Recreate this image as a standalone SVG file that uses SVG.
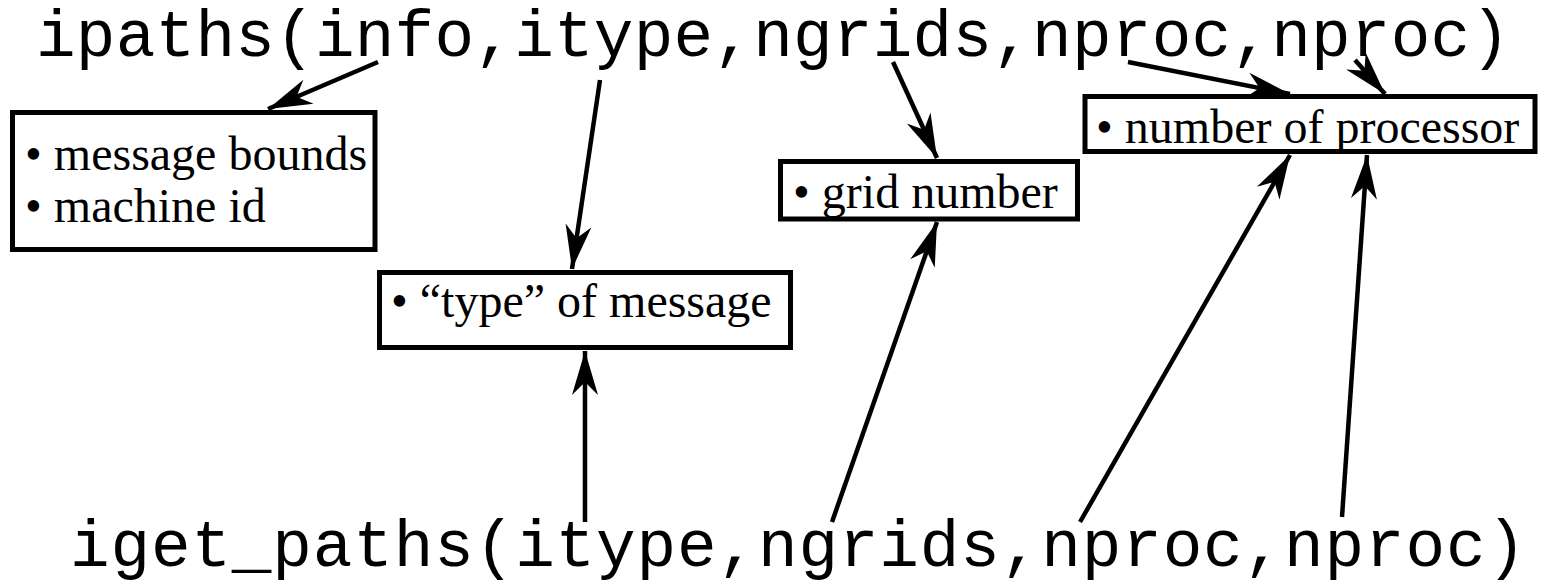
<svg xmlns="http://www.w3.org/2000/svg" width="1542" height="583" viewBox="0 0 1542 583">
<defs>
<style>
.code{font-family:"Liberation Mono","Courier New",monospace;font-size:66px;fill:#000}
.lbl{font-family:"Liberation Serif","Times New Roman",serif;font-size:48px;fill:#000}
.box{fill:#fff;stroke:#000;stroke-width:5}
.arr{fill:none;stroke:#000;stroke-width:4.5;marker-end:url(#ah)}
</style>
<marker id="ah" viewBox="-46 -15 48 30" refX="0" refY="0" markerWidth="48" markerHeight="30" markerUnits="userSpaceOnUse" orient="auto">
<path d="M0,0 L-44,-13 L-31,0 L-44,13 Z" fill="#000"/>
</marker>
</defs>
<rect width="1542" height="583" fill="#fff"/>
<g id="top-call"><text class="code" x="36" y="56" textLength="1474" lengthAdjust="spacing">ipaths(info,itype,ngrids,nproc,nproc)</text></g>
<g id="bottom-call"><text class="code" x="70" y="566" textLength="1456" lengthAdjust="spacing">iget_paths(itype,ngrids,nproc,nproc)</text></g>
<g id="node-bounds">
<rect class="box" x="12.5" y="112.5" width="362.5" height="137"/>
<text class="lbl" x="25" y="170">• message bounds</text>
<text class="lbl" x="25" y="222">• machine id</text>
</g>
<g id="node-type">
<rect class="box" x="379.5" y="272.5" width="411" height="75"/>
<text class="lbl" x="391" y="317">• “type” of message</text>
</g>
<g id="node-grid">
<rect class="box" x="780.5" y="161.5" width="297" height="57.5"/>
<text class="lbl" x="793" y="208">• grid number</text>
</g>
<g id="node-proc">
<rect class="box" x="1085" y="96.5" width="450" height="55"/>
<text class="lbl" x="1096" y="143">• number of processor</text>
</g>
<g id="connectors">
<line class="arr" x1="378" y1="62" x2="268" y2="109"/>
<line class="arr" x1="600" y1="80" x2="572" y2="269"/>
<line class="arr" x1="893" y1="62" x2="937" y2="158"/>
<line class="arr" x1="1128" y1="62" x2="1290" y2="94"/>
<line class="arr" x1="1355" y1="60" x2="1385" y2="94"/>
<line class="arr" x1="585" y1="522" x2="585" y2="351"/>
<line class="arr" x1="832" y1="522" x2="937" y2="222"/>
<line class="arr" x1="1080" y1="522" x2="1290" y2="155"/>
<line class="arr" x1="1342" y1="517" x2="1367" y2="155"/>
</g>
</svg>
